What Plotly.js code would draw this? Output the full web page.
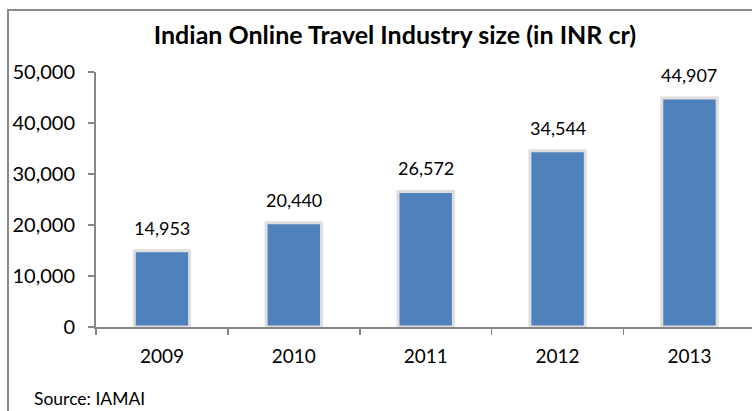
<!DOCTYPE html>
<html>
<head>
<meta charset="utf-8">
<script src="https://cdn.plot.ly/plotly-3.0.1.min.js"></script>
<style>html,body{margin:0;padding:0;background:#fff;}#chart{width:752px;height:411px;}</style>
</head>
<body>
<div id="chart"></div>
<script>
const categories = ["2009", "2010", "2011", "2012", "2013"];
const sizeValues = [14953, 20440, 26572, 34544, 44907];
const yTickValues = [0, 10000, 20000, 30000, 40000, 50000];
const yTickLabels = ["0", "10,000", "20,000", "30,000", "40,000", "50,000"];
const titleText = "Indian Online Travel Industry size (in INR cr)";
const sourceText = "Source: IAMAI";

const FONT = "Lato, 'Open Sans', sans-serif";
const fmt = v => v.toLocaleString("en-US");

const trace = {
  type: "bar",
  x: categories,
  y: sizeValues,
  width: 0.42,
  marker: {color: "#4F81BD", line: {color: "rgba(222,222,222,1)", width: 3}},
  hoverinfo: "none"
};

const labelAnnotations = categories.map((c, i) => ({
  x: i, y: sizeValues[i], xref: "x", yref: "y",
  text: fmt(sizeValues[i]), showarrow: false,
  yshift: 23, yanchor: "middle", xanchor: "center",
  font: {family: FONT, size: 18, color: "#000"}
}));

const layout = {
  width: 752, height: 411,
  margin: {l: 96, r: 0, t: 72, b: 84},
  paper_bgcolor: "#fff", plot_bgcolor: "#fff",
  showlegend: false,
  title: {
    text: "<b>" + titleText + "</b>",
    xref: "container", yref: "container",
    x: 395 / 752, xanchor: "center",
    y: 1 - 35 / 411, yanchor: "middle",
    font: {family: FONT, size: 25, color: "#000"}
  },
  xaxis: {
    type: "category",
    range: [-0.5, 4.474],
    showline: true, linecolor: "#868686", linewidth: 2,
    ticks: "outside", tickson: "boundaries", ticklen: 6, tickcolor: "#868686", tickwidth: 1.5,
    showgrid: false, zeroline: false,
    tickfont: {family: FONT, size: 19, color: "#000"},
    ticklabelstandoff: 11
  },
  yaxis: {
    range: [0, 50000],
    tickvals: yTickValues, ticktext: yTickLabels,
    showline: true, linecolor: "#868686", linewidth: 2,
    ticks: "outside", ticklen: 6, tickcolor: "#868686", tickwidth: 1.5,
    showgrid: false, zeroline: false,
    tickfont: {family: FONT, size: 20, color: "#000"},
    ticklabelstandoff: 9
  },
  annotations: labelAnnotations.concat([{
    xref: "paper", yref: "paper",
    x: (32 - 96) / 656, y: (327 - 398) / 255, xanchor: "left", yanchor: "middle",
    text: sourceText, showarrow: false,
    font: {family: FONT, size: 17.5, color: "#000"}
  }]),
  shapes: [{
    type: "rect", xref: "paper", yref: "paper",
    x0: (8 - 96) / 656, x1: 1.3,
    y0: -1.0, y1: 1 + (72 - 10) / 255,
    line: {color: "#8a8a8a", width: 2}, fillcolor: "rgba(0,0,0,0)", layer: "below"
  }]
};

Plotly.newPlot("chart", [trace], layout, {displayModeBar: false, staticPlot: true});
</script>
</body>
</html>
